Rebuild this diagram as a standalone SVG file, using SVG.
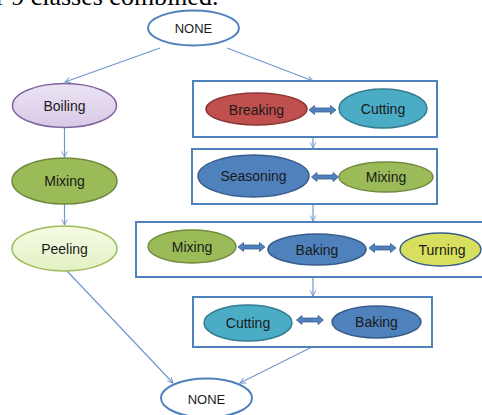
<svg xmlns="http://www.w3.org/2000/svg" width="482" height="415" viewBox="0 0 482 415">
<defs>
<marker id="ah" viewBox="0 0 10 10" refX="9" refY="5" markerWidth="7" markerHeight="7" orient="auto" markerUnits="userSpaceOnUse">
<path d="M1,1 L9,5 L1,9" fill="none" stroke="#6f97cf" stroke-width="1.3"/>
</marker>
<linearGradient id="gPurple" x1="0" y1="0" x2="0" y2="1">
<stop offset="0" stop-color="#ece4f4"/><stop offset="1" stop-color="#d8c9e8"/>
</linearGradient>
<linearGradient id="gLight" x1="0" y1="0" x2="0" y2="1">
<stop offset="0" stop-color="#f5fbe4"/><stop offset="1" stop-color="#e2f1c4"/>
</linearGradient>
<path id="dbl" d="M-13.5,0 L-8,-4.5 L-8,-2 L8,-2 L8,-4.5 L13.5,0 L8,4.5 L8,2 L-8,2 L-8,4.5 Z" fill="#4f81bd" stroke="#385d8a" stroke-width="0.8"/>
</defs>
<style>
text{font-family:"Liberation Sans","Open Sans",Arial,sans-serif;font-size:14px;fill:#1a1a1a;text-anchor:middle}
.cap{font-family:"Liberation Serif","Times New Roman",serif;font-size:26px;fill:#000;text-anchor:start}
.box{fill:none;stroke:#4f81bd;stroke-width:2}
.none{fill:#fff;stroke:#4f81bd;stroke-width:2}
.grn{fill:#9bbb59;stroke:#71893f;stroke-width:1.5}
.blu{fill:#4f81bd;stroke:#385d8a;stroke-width:1.5}
.tea{fill:#4bacc6;stroke:#357d91;stroke-width:1.5}
.red{fill:#c0504d;stroke:#8c3836;stroke-width:1.5}
.conn line{stroke:#6f97cf;stroke-width:1.2;marker-end:url(#ah)}
</style>
<text class="cap" x="-4" y="5">r 9 classes combined.</text>
<g id="connectors" class="conn">
<line x1="160" y1="48" x2="65" y2="82"/>
<line x1="227" y1="48" x2="313" y2="81"/>
<line x1="64.5" y1="128" x2="64.5" y2="157"/>
<line x1="64.5" y1="204" x2="64.5" y2="225"/>
<line x1="313" y1="137" x2="313" y2="148"/>
<line x1="313" y1="204" x2="313" y2="221"/>
<line x1="313" y1="277" x2="313" y2="296"/>
<line x1="67" y1="271" x2="173" y2="383"/>
<line x1="312" y1="347" x2="240" y2="383"/>
</g>
<g id="none-top"><ellipse class="none" cx="193.5" cy="28" rx="45.5" ry="17.5"/><text x="193.5" y="33" style="font-size:13px">NONE</text></g>
<g id="boiling"><ellipse cx="64.5" cy="105.5" rx="52" ry="22" fill="url(#gPurple)" stroke="#8064a2" stroke-width="1.5"/><text x="64.5" y="110.5">Boiling</text></g>
<g id="mixing-left"><ellipse class="grn" cx="64.5" cy="181" rx="52.5" ry="23"/><text x="64.5" y="186">Mixing</text></g>
<g id="peeling"><ellipse cx="64.5" cy="248.5" rx="52.5" ry="22.5" fill="url(#gLight)" stroke="#9bbb59" stroke-width="1.5"/><text x="64.5" y="253.5">Peeling</text></g>
<g id="group1">
<rect class="box" x="193" y="81" width="244" height="56"/>
<g id="breaking"><ellipse class="red" cx="256.5" cy="109" rx="50.5" ry="16"/><text x="256.5" y="115">Breaking</text></g>
<use href="#dbl" x="322.5" y="110"/>
<g id="cutting1"><ellipse class="tea" cx="383" cy="108.5" rx="44" ry="19.5"/><text x="383" y="114">Cutting</text></g>
</g>
<g id="group2">
<rect class="box" x="192" y="149" width="245" height="55"/>
<g id="seasoning"><ellipse class="blu" cx="253.5" cy="176" rx="55.5" ry="21"/><text x="253.5" y="181">Seasoning</text></g>
<use href="#dbl" x="325" y="177"/>
<g id="mixing2"><ellipse class="grn" cx="386" cy="177" rx="47" ry="15"/><text x="386" y="182">Mixing</text></g>
</g>
<g id="group3">
<rect class="box" x="136" y="222" width="350" height="55"/>
<g id="mixing3"><ellipse class="grn" cx="192" cy="246.5" rx="44" ry="16.5"/><text x="192" y="251.5">Mixing</text></g>
<use href="#dbl" x="251.5" y="247"/>
<g id="baking1"><ellipse class="blu" cx="317" cy="249.5" rx="49" ry="15.5"/><text x="317" y="254.5">Baking</text></g>
<use href="#dbl" x="382.5" y="248"/>
<g id="turning"><ellipse cx="440.5" cy="249.5" rx="40.5" ry="16.5" fill="#d8df5e" stroke="#385d8a" stroke-width="1.5"/><text x="442" y="254.5">Turning</text></g>
</g>
<g id="group4">
<rect class="box" x="193" y="297" width="239" height="50"/>
<g id="cutting2"><ellipse class="tea" cx="248" cy="323" rx="44" ry="18"/><text x="248" y="328">Cutting</text></g>
<use href="#dbl" x="310" y="320"/>
<g id="baking2"><ellipse class="blu" cx="376.5" cy="322" rx="44.5" ry="16"/><text x="376.5" y="327">Baking</text></g>
</g>
<g id="none-bottom"><ellipse class="none" cx="206.5" cy="398" rx="45.5" ry="19.5"/><text x="206.5" y="404" style="font-size:13px">NONE</text></g>
</svg>
